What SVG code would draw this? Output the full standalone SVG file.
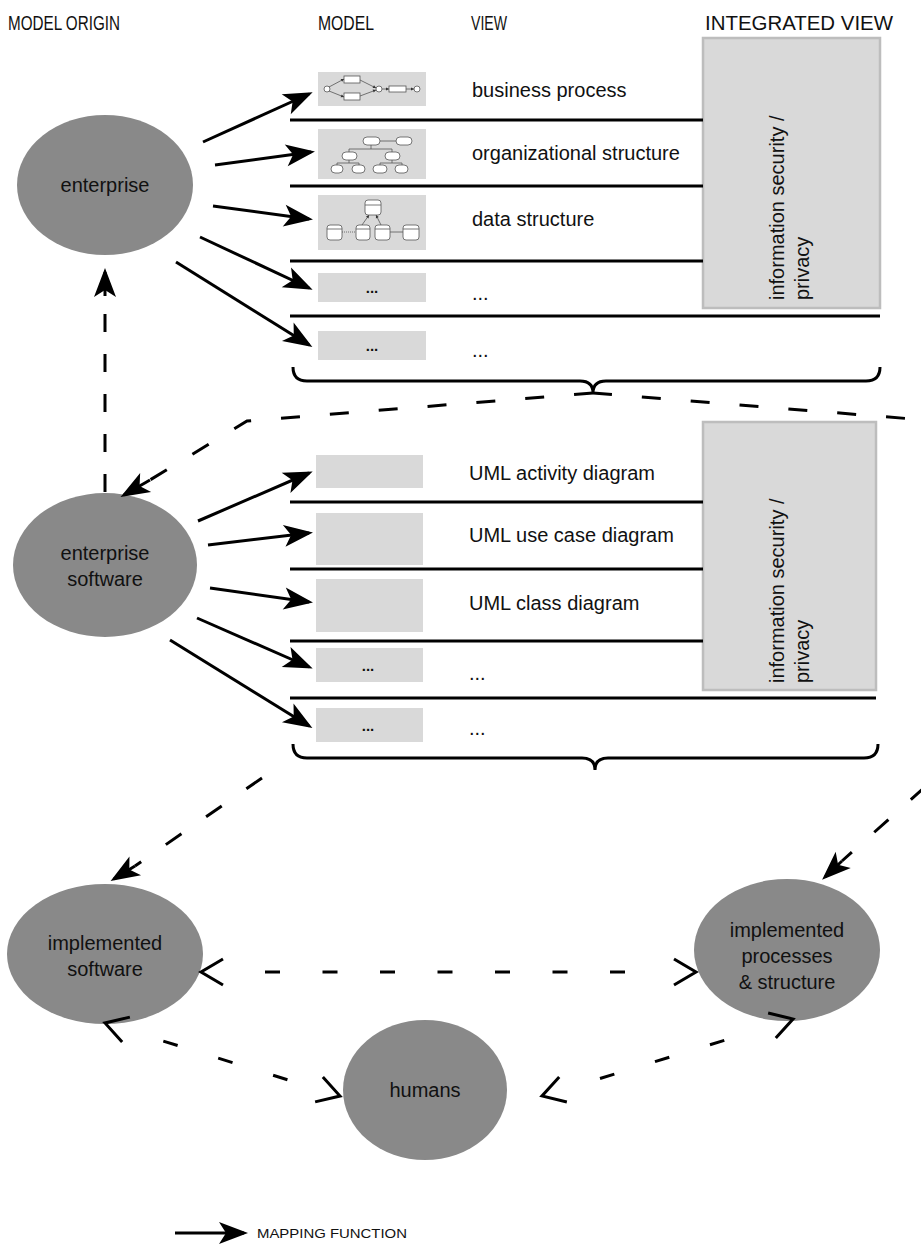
<svg xmlns="http://www.w3.org/2000/svg" xmlns:xlink="http://www.w3.org/1999/xlink" width="921" height="1245" viewBox="0 0 921 1245">
<style>
text{font-family:"Liberation Sans",Arial,sans-serif;fill:#111}
.hdr{font-size:21px}
.lbl{font-size:20px}
.dots{font-size:15px;font-weight:bold;text-anchor:middle}
.ell{fill:#898989}
.etxt{font-size:20px;text-anchor:middle}
.mbox{fill:#d9d9d9}
.ibox{fill:#d9d9d9;stroke:#bdbdbd;stroke-width:2.5}
.sep{stroke:#000;stroke-width:3;fill:none}
.arr{stroke:#000;stroke-width:3;fill:none;marker-end:url(#ah)}
.dash{stroke:#000;stroke-width:3;fill:none;stroke-dasharray:19 30}
.dash2{stroke:#000;stroke-width:3;fill:none;stroke-dasharray:15 42.5}
.vh{stroke:#000;stroke-width:3;fill:none}
.mini{fill:#fff;stroke:#555;stroke-width:0.8}
.mline{stroke:#555;stroke-width:0.8;fill:none}
</style>
<defs>
<marker id="ah" markerUnits="userSpaceOnUse" markerWidth="40" markerHeight="30" viewBox="-30 -15 40 30" refX="0" refY="0" orient="auto">
<path d="M4,0 L-25,-11 L-18,0 L-25,11 Z" fill="#000"/>
</marker>
<marker id="sa" markerUnits="userSpaceOnUse" markerWidth="10" markerHeight="10" viewBox="-5 -5 10 10" refX="0" refY="0" orient="auto">
<path d="M0,0 L-3,-1.6 L-3,1.6 Z" fill="#333"/>
</marker>
<path id="vhead" d="M-22,-13 L0,0 L-22,13"/>
</defs>

<g id="headers">
<text class="hdr" x="8" y="30" textLength="112" lengthAdjust="spacingAndGlyphs">MODEL ORIGIN</text>
<text class="hdr" x="318" y="30" textLength="56" lengthAdjust="spacingAndGlyphs">MODEL</text>
<text class="hdr" x="471" y="30" textLength="36" lengthAdjust="spacingAndGlyphs">VIEW</text>
<text class="hdr" x="705" y="30" textLength="188" lengthAdjust="spacingAndGlyphs">INTEGRATED VIEW</text>
</g>

<!-- TOP SECTION -->
<g id="integrated-view-1">
<rect class="ibox" x="703" y="38" width="177" height="270"/>
<text class="lbl" transform="translate(784,300) rotate(-90)">information security /</text>
<text class="lbl" transform="translate(809,300) rotate(-90)">privacy</text>
</g>

<g id="separators-1">
<line class="sep" x1="290" y1="120" x2="703" y2="120"/>
<line class="sep" x1="290" y1="186" x2="703" y2="186"/>
<line class="sep" x1="290" y1="261" x2="703" y2="261"/>
<line class="sep" x1="290" y1="316" x2="880" y2="316"/>
<path class="sep" d="M293,367 Q293,381 307,381 L580,381 Q593,381 593,393 Q593,381 606,381 L866,381 Q880,381 880,367"/>
</g>

<g id="model-business-process">
<rect class="mbox" x="318" y="72" width="108" height="34"/>
<circle class="mini" cx="327" cy="89" r="3"/>
<rect class="mini" x="344" y="76" width="16" height="7"/>
<rect class="mini" x="344" y="93" width="16" height="7"/>
<circle class="mini" cx="379" cy="89" r="3"/>
<rect class="mini" x="389" y="86" width="17" height="6"/>
<circle class="mini" cx="417" cy="89" r="3"/>
<path class="mline" marker-end="url(#sa)" d="M329,87 L344,79"/>
<path class="mline" marker-end="url(#sa)" d="M329,91 L344,97"/>
<path class="mline" marker-end="url(#sa)" d="M360,80 L376,88"/>
<path class="mline" marker-end="url(#sa)" d="M360,96 L376,90"/>
<path class="mline" marker-end="url(#sa)" d="M382,89 L389,89"/>
<path class="mline" marker-end="url(#sa)" d="M406,89 L414,89"/>
<text class="lbl" x="472" y="97">business process</text>
</g>

<g id="model-org-structure">
<rect class="mbox" x="318" y="129" width="108" height="50"/>
<path class="mline" d="M380,141 L396,141 M371,145 L371,149 M349,149 L392,149 M349,149 L349,152 M392,149 L392,152 M349,160 L349,163 M337,163 L359,163 M337,163 L337,165 M359,163 L359,165 M392,160 L392,163 M380,163 L402,163 M380,163 L380,165 M402,163 L402,165"/>
<rect class="mini" x="363" y="137" width="17" height="8" rx="4"/>
<rect class="mini" x="396" y="137" width="16" height="8" rx="4"/>
<rect class="mini" x="342" y="152" width="15" height="8" rx="4"/>
<rect class="mini" x="385" y="152" width="15" height="8" rx="4"/>
<rect class="mini" x="331" y="165" width="12" height="8" rx="4"/>
<rect class="mini" x="352" y="165" width="13" height="8" rx="4"/>
<rect class="mini" x="373" y="165" width="14" height="8" rx="4"/>
<rect class="mini" x="395" y="165" width="13" height="8" rx="4"/>
<text class="lbl" x="472" y="160">organizational structure</text>
</g>

<g id="model-data-structure">
<rect class="mbox" x="318" y="195" width="108" height="55"/>
<path class="mline" d="M342,232 L356,232" stroke-dasharray="1 1"/>
<path class="mline" d="M390,232 L403,232"/>
<path class="mline" marker-end="url(#sa)" d="M362,225 L369,215"/>
<path class="mline" marker-end="url(#sa)" d="M381,225 L376,215"/>
<rect class="mini" x="365" y="200" width="16" height="15" rx="3"/>
<line class="mline" x1="365" y1="205" x2="381" y2="205"/>
<rect class="mini" x="327" y="225" width="15" height="15" rx="3"/>
<rect class="mini" x="356" y="225" width="14" height="15" rx="3"/>
<rect class="mini" x="375" y="225" width="15" height="15" rx="3"/>
<rect class="mini" x="403" y="225" width="16" height="15" rx="3"/>
<path class="mline" d="M327,229 L342,229 M356,229 L370,229 M375,229 L390,229 M403,229 L419,229"/>
<text class="lbl" x="472" y="226">data structure</text>
</g>

<g id="model-top-4">
<rect class="mbox" x="318" y="273" width="108" height="29"/>
<text class="dots" x="372" y="293">...</text>
<text class="lbl" x="472" y="300">...</text>
</g>
<g id="model-top-5">
<rect class="mbox" x="318" y="331" width="108" height="29"/>
<text class="dots" x="372" y="351">...</text>
<text class="lbl" x="472" y="357">...</text>
</g>

<g id="enterprise">
<ellipse class="ell" cx="105" cy="185" rx="88" ry="70"/>
<text class="etxt" x="105" y="192">enterprise</text>
</g>

<!-- MIDDLE SECTION -->
<g id="integrated-view-2">
<rect class="ibox" x="703" y="422" width="173" height="268"/>
<text class="lbl" transform="translate(784,683) rotate(-90)">information security /</text>
<text class="lbl" transform="translate(809,683) rotate(-90)">privacy</text>
</g>

<g id="separators-2">
<line class="sep" x1="290" y1="502" x2="703" y2="502"/>
<line class="sep" x1="290" y1="569" x2="703" y2="569"/>
<line class="sep" x1="290" y1="641" x2="703" y2="641"/>
<line class="sep" x1="290" y1="698" x2="876" y2="698"/>
<path class="sep" d="M293,744 Q293,758 307,758 L582,758 Q595,758 595,770 Q595,758 608,758 L864,758 Q878,758 878,744"/>
</g>

<g id="model-uml-activity">
<rect class="mbox" x="316" y="455" width="107" height="33"/>
<text class="lbl" x="469" y="480">UML activity diagram</text>
</g>
<g id="model-uml-usecase">
<rect class="mbox" x="316" y="513" width="107" height="52"/>
<text class="lbl" x="469" y="542">UML use case diagram</text>
</g>
<g id="model-uml-class">
<rect class="mbox" x="316" y="579" width="107" height="53"/>
<text class="lbl" x="469" y="610">UML class diagram</text>
</g>
<g id="model-mid-4">
<rect class="mbox" x="316" y="648" width="107" height="34"/>
<text class="dots" x="368" y="671">...</text>
<text class="lbl" x="469" y="680">...</text>
</g>
<g id="model-mid-5">
<rect class="mbox" x="316" y="708" width="107" height="34"/>
<text class="dots" x="368" y="731">...</text>
<text class="lbl" x="469" y="735">...</text>
</g>

<g id="enterprise-software">
<ellipse class="ell" cx="105" cy="565" rx="92" ry="72"/>
<text class="etxt" x="105" y="560">enterprise</text>
<text class="etxt" x="105" y="586">software</text>
</g>

<!-- BOTTOM SECTION -->
<g id="implemented-software">
<ellipse class="ell" cx="105" cy="954" rx="98" ry="70"/>
<text class="etxt" x="105" y="950">implemented</text>
<text class="etxt" x="105" y="976">software</text>
</g>
<g id="implemented-processes">
<ellipse class="ell" cx="787" cy="950" rx="93" ry="71"/>
<text class="etxt" x="787" y="937">implemented</text>
<text class="etxt" x="787" y="963">processes</text>
<text class="etxt" x="787" y="989">&amp; structure</text>
</g>
<g id="humans">
<ellipse class="ell" cx="425" cy="1090" rx="82" ry="70"/>
<text class="etxt" x="425" y="1097">humans</text>
</g>

<g id="connectors">
<!-- mapping arrows top -->
<line class="arr" x1="203" y1="142" x2="309" y2="94"/>
<line class="arr" x1="215" y1="165" x2="311" y2="152"/>
<line class="arr" x1="213" y1="206" x2="309" y2="219"/>
<line class="arr" x1="200" y1="237" x2="309" y2="288"/>
<line class="arr" x1="176" y1="262" x2="309" y2="345"/>
<!-- mapping arrows middle -->
<line class="arr" x1="198" y1="521" x2="309" y2="473"/>
<line class="arr" x1="208" y1="545" x2="309" y2="533"/>
<line class="arr" x1="210" y1="588" x2="309" y2="602"/>
<line class="arr" x1="197" y1="618" x2="309" y2="667"/>
<line class="arr" x1="170" y1="640" x2="309" y2="726"/>
<!-- dashed mapping -->
<line class="dash" x1="105" y1="492" x2="105" y2="296" style="stroke-dasharray:18 22"/>
<line x1="105" y1="296" x2="105" y2="272" stroke="#000" stroke-width="3" marker-end="url(#ah)"/>
<polyline class="dash" points="593,393 247,421 150,480"/>
<line x1="150" y1="480" x2="124" y2="495" stroke="#000" stroke-width="3" marker-end="url(#ah)"/>
<line class="dash" x1="593" y1="393" x2="925" y2="420"/>
<line class="dash" x1="262" y1="778" x2="135" y2="866"/>
<line x1="135" y1="866" x2="114" y2="879" stroke="#000" stroke-width="3" marker-end="url(#ah)"/>
<line class="dash" x1="925" y1="787" x2="842" y2="861"/>
<line x1="842" y1="861" x2="825" y2="877" stroke="#000" stroke-width="3" marker-end="url(#ah)"/>
<!-- bidirectional dashed -->
<line class="dash2" x1="265" y1="972" x2="640" y2="972"/>
<use href="#vhead" class="vh" transform="translate(201,972) rotate(180)"/>
<use href="#vhead" class="vh" transform="translate(696,972)"/>
<line class="dash2" x1="163.3" y1="1041.1" x2="290.3" y2="1080.6"/>
<use href="#vhead" class="vh" transform="translate(105,1023) rotate(197.3)"/>
<use href="#vhead" class="vh" transform="translate(340,1096) rotate(17.3)"/>
<line class="dash2" x1="600" y1="1078.5" x2="725.3" y2="1040.1"/>
<use href="#vhead" class="vh" transform="translate(542,1096) rotate(162.9)"/>
<use href="#vhead" class="vh" transform="translate(793,1019) rotate(-17.1)"/>
</g>

<g id="legend">
<line class="arr" x1="175" y1="1233" x2="244" y2="1233"/>
<text x="257" y="1238" font-size="13" textLength="150" lengthAdjust="spacingAndGlyphs">MAPPING FUNCTION</text>
</g>
</svg>
